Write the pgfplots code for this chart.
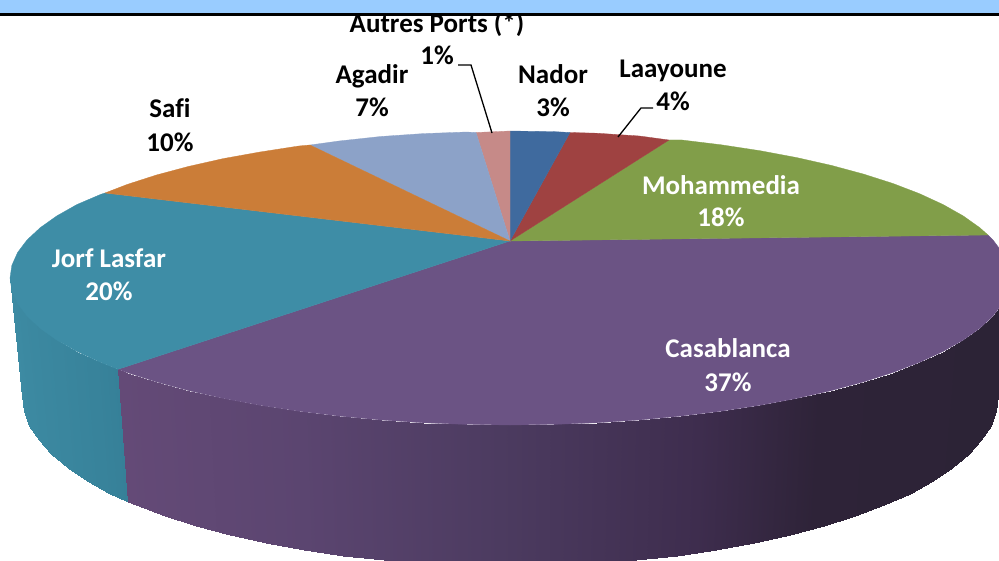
\documentclass[border=0pt]{standalone}
\usepackage{fontspec}
\setmainfont{Carlito}[Ligatures=NoCommon]
\usepackage{pgfplots}
\pgfplotsset{compat=1.18}
\definecolor{cNador}{HTML}{3F6A9E}
\definecolor{cLaay}{HTML}{9F4241}
\definecolor{cMoha}{HTML}{819E49}
\definecolor{cCasa}{HTML}{6B5384}
\definecolor{cJorf}{HTML}{3E8DA6}
\definecolor{cSafi}{HTML}{CB7D38}
\definecolor{cAgad}{HTML}{8CA2C8}
\definecolor{cAutr}{HTML}{C68A88}
\definecolor{cBand}{HTML}{99CCFF}
\pgfplotsset{
  colormap={sideCasa}{rgb255(0)=(104,76,123) rgb255(118)=(100,74,119) rgb255(300)=(91,69,112) rgb255(500)=(76,59,96) rgb255(700)=(62,45,78) rgb255(820)=(46,35,56) rgb255(1000)=(44,35,54)},
  colormap={sideJorf}{rgb255(0)=(62,140,164) rgb255(1000)=(54,128,152)},
}
\newcommand{\lab}[4]{\node[anchor=base,text=#4,font=\fontsize{27}{27}\selectfont\bfseries,inner sep=0pt] at (axis cs:#1,#2) {#3};}
\begin{document}
\begin{tikzpicture}
\begin{axis}[
  anchor=origin, at={(0,0)},
  width=999pt, height=561pt, scale only axis,
  xmin=0, xmax=999, ymin=0, ymax=561, y dir=reverse,
  hide axis, no markers, clip=true,
  point meta min=0, point meta max=1000,
]
% sides
\addplot[surf, shader=interp, colormap name=sideJorf, mesh/rows=2, mesh/ordering=x varies, point meta=explicit]
 table[x=x,y=y,meta=c] {
x y c
10 278 0
11.9 290.8 100
17.6 303.5 200
27 316 300
40.2 328.3 400
56.8 340.1 500
77 351.5 650
100.4 362.3 800
118 369.3 1000
22 396 0
23.9 410.8 100
29.4 425.5 200
38.6 440 300
51.4 454.1 400
67.7 467.8 500
87.4 481 650
110.2 493.5 800
127.6 501.6 1000
};
\addplot[surf, shader=interp, colormap name=sideCasa, mesh/rows=2, mesh/ordering=x varies, point meta=explicit]
 table[x=x,y=y,meta=c] {
x y c
118 369.3 118
127 372.5 127
156.4 381.9 156
188.6 390.6 189
223.2 398.4 223
260 405.3 260
298.7 411.2 299
339 416.1 339
380.6 420 381
423.2 422.8 423
466.4 424.4 466
510 425 510
553.6 424.4 554
596.8 422.8 597
639.4 420 639
681 416.1 681
721.3 411.2 721
760 405.3 760
796.8 398.4 797
831.4 390.6 831
863.6 381.9 864
893 372.5 893
919.6 362.3 920
943 351.5 943
963.2 340.1 963
979.8 328.3 980
993 316 993
1002.4 303.5 1000
1008.1 290.8 1000
1010 278 1000
127.6 501.6 118
136.2 505.3 127
164.9 516.2 156
196.3 526.2 189
230.1 535.3 223
266 543.2 260
303.8 550.1 299
343.1 555.7 339
383.7 560.2 381
425.3 563.4 423
467.4 565.4 466
510 566 510
552.6 565.4 554
594.7 563.4 597
636.3 560.2 639
676.9 555.7 681
716.2 550.1 721
754 543.2 760
789.9 535.3 797
823.7 526.2 831
855.1 516.2 864
883.8 505.3 893
909.8 493.5 920
932.6 481 943
952.3 467.8 963
968.6 454.1 980
981.4 440 993
990.6 425.5 1000
996.1 410.8 1000
998 396 1000
};
% top faces
\addplot[fill=cCasa, draw=cCasa, line width=0.3pt] coordinates {
(510,241) (118,369.3) (127,372.5) (156.4,381.9) (188.6,390.6) (223.2,398.4) (260,405.3) (298.7,411.2) (339,416.1) (380.6,420) (423.2,422.8) (466.4,424.4) (510,425) (553.6,424.4) (596.8,422.8) (639.4,420) (681,416.1) (721.3,411.2) (760,405.3) (796.8,398.4) (831.4,390.6) (863.6,381.9) (893,372.5) (919.6,362.3) (943,351.5) (963.2,340.1) (979.8,328.3) (993,316) (1002.4,303.5) (1008.1,290.8) (1010,278) (1008.1,265.2) (1002.4,252.5) (993,240) (988,235)
} --cycle;
\addplot[fill=cJorf, draw=cJorf, line width=0.3pt] coordinates {
(510,241) (105,193) (100.4,194.5) (77,204.5) (56.8,215.9) (40.2,227.7) (27,240) (17.6,252.5) (11.9,265.2) (10,278) (11.9,290.8) (17.6,303.5) (27,316) (40.2,328.3) (56.8,340.1) (77,351.5) (100.4,362.3) (118,369.3)
} --cycle;
\addplot[fill=cMoha, draw=cMoha, line width=0.3pt] coordinates {
(510,241) (988,235) (979.8,227.7) (963.2,215.9) (943,204.5) (919.6,193.7) (893,183.5) (863.6,174.1) (831.4,165.4) (796.8,157.6) (760,150.7) (721.3,144.8) (681,139.9) (669,140)
} --cycle;
\addplot[fill=cLaay, draw=cLaay, line width=0.3pt] coordinates {
(510,241) (669,140) (639.4,136) (596.8,133.2) (570,132.5)
} --cycle;
\addplot[fill=cNador, draw=cNador, line width=0.3pt] coordinates {
(510,241) (570,132.5) (553.6,131.6) (510,131)
} --cycle;
\addplot[fill=cAutr, draw=cAutr, line width=0.3pt] coordinates {
(510,241) (510,131) (476,132.5)
} --cycle;
\addplot[fill=cAgad, draw=cAgad, line width=0.3pt] coordinates {
(510,241) (476,132.5) (466.4,132) (423.2,133.6) (380.6,136.5) (339,141) (310,145)
} --cycle;
\addplot[fill=cSafi, draw=cSafi, line width=0.3pt] coordinates {
(510,241) (310,145) (298.7,146) (260,152) (223.2,158.6) (188.6,166.4) (156.4,175) (127,184.5) (105,193)
} --cycle;
% leader lines
\addplot[black, line width=1.3pt] coordinates {(458,65) (471,65) (492,133)};
\addplot[black, line width=1.3pt] coordinates {(653,108) (641,108) (618,137)};
% labels
\lab{437}{32}{Autres Ports (*)}{black}
\lab{437}{64}{1\%}{black}
\lab{372}{83}{Agadir}{black}
\lab{372}{116}{7\%}{black}
\lab{553}{83}{Nador}{black}
\lab{553}{116}{3\%}{black}
\lab{673}{77}{Laayoune}{black}
\lab{673}{110}{4\%}{black}
\lab{170}{117}{Safi}{black}
\lab{170}{151}{10\%}{black}
\lab{721}{194}{Mohammedia}{white}
\lab{721}{226}{18\%}{white}
\lab{728}{357}{Casablanca}{white}
\lab{728}{391}{37\%}{white}
\lab{109}{267}{Jorf Lasfar}{white}
\lab{109}{300}{20\%}{white}
% top band
\addplot[fill=cBand, draw=none] coordinates {(0,0) (999,0) (999,13) (0,13)} --cycle;
\addplot[fill=black, draw=none] coordinates {(0,13) (999,13) (999,16) (0,16)} --cycle;
\end{axis}
\end{tikzpicture}
\end{document}
